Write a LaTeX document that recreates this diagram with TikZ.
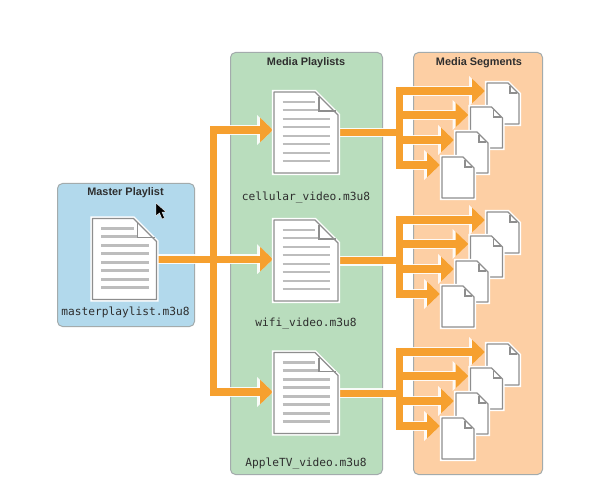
\documentclass[tikz,border=0pt]{standalone}
\usepackage{fontspec}
\setmainfont{Liberation Sans}
\newfontfamily\codefont{DejaVu Sans Mono}
\usetikzlibrary{arrows.meta}
\definecolor{flowc}{HTML}{F6A02F}
\definecolor{bluep}{HTML}{B2D9EC}
\definecolor{greenp}{HTML}{B9DDBD}
\definecolor{orangep}{HTML}{FDCFA4}
\definecolor{edgec}{HTML}{A3ABAC}
\definecolor{docedge}{HTML}{8E8E8E}
\definecolor{rulec}{HTML}{BDBDBD}
\definecolor{inkc}{HTML}{2E2E2E}
\tikzset{
  panel/.style={draw=edgec,line width=1pt,rounded corners=5pt},
  paneltitle/.style={font=\fontsize{10.9}{12}\selectfont\bfseries,text=inkc,inner sep=0pt},
  filename/.style={font=\codefont\fontsize{11.2}{13}\selectfont,text=inkc,inner sep=0pt},
  bigdoc/.style={minimum width=64pt,minimum height=81pt,inner sep=0pt,anchor=north west},
  smalldoc/.style={minimum width=32pt,minimum height=41pt,inner sep=0pt,anchor=north west},
  halo/.style={draw=white,line width=9.6pt,line cap=rect,opacity=0.9},
  flow/.style={draw=flowc,line width=7.4pt,line cap=rect},
  haloarr/.style={halo,-{Triangle[length=16pt,width=29pt,color=white]}},
  flowarr/.style={flow,-{Triangle[length=13pt,width=24pt,color=flowc]}},
  docbody/.style={fill=white,draw=docedge,line width=1.4pt,line join=round,
    preaction={draw=white,line width=4.2pt}},
  docfold/.style={draw=docedge,line width=1.2pt},
  docrule/.style={draw=rulec,line width=2.6pt}
}
% big document artwork, over its named node
\newcommand\drawbig[1]{%
  \begin{scope}[shift={(#1.north west)}]
    \draw[docbody] (0,0) -- (41,0) -- (64,23) -- (64,81) -- (0,81) -- cycle;
    \draw[docfold] (45,5) -- (45,19) -- (62,19);
    \foreach \yy/\xe in {10/41,18/44,27/56,35/56,44/56,52/56,61/56,69/56}
      \draw[docrule] (8.5,\yy) -- (\xe,\yy);
  \end{scope}}
% small document artwork, over its named node
\newcommand\drawsmall[1]{%
  \begin{scope}[shift={(#1.north west)}]
    \draw[docbody] (0,0) -- (21,0) -- (32,11) -- (32,41) -- (0,41) -- cycle;
    \draw[docfold] (23,3) -- (23,10) -- (30,10);
  \end{scope}}
% four stacked segment documents, with the point each arrow reaches
\newcommand\placegroup[2]{%
  \node[smalldoc] (#11) at (487,#2) {};
  \node[smalldoc] (#12) at (470.5,#2+24) {};
  \node[smalldoc] (#13) at (456,#2+49) {};
  \node[smalldoc] (#14) at (442,#2+74) {};
  \foreach \k in {1,2,3,4}
    \coordinate (#1\k in) at ([xshift=-2pt,yshift=-8pt]#1\k.north west);
}
\newcommand\groupspine[3]{%
  \draw[#3] (#2 |- #11in) -- (#2 |- #14in);
}
\begin{document}
\begin{tikzpicture}[x=1pt,y=-1pt]
  \useasboundingbox[fill=white] (0,0) rectangle (595,500);
  % panels
  \node[panel,fill=bluep,minimum width=137pt,minimum height=143pt,anchor=north west,inner sep=0pt] (masterpanel) at (57,183) {};
  \node[panel,fill=greenp,minimum width=152pt,minimum height=422pt,anchor=north west,inner sep=0pt] (mediapanel) at (230,52) {};
  \node[panel,fill=orangep,minimum width=129pt,minimum height=422pt,anchor=north west,inner sep=0pt] (segpanel) at (413,52) {};
  \node[paneltitle] (mastertitle) at (125.5,192.8) {Master Playlist};
  \node[paneltitle] (mediatitle) at (306,63) {Media Playlists};
  \node[paneltitle] (segtitle) at (479,63) {Media Segments};
  % document anchors
  \node[bigdoc] (master) at (92.5,218.5) {};
  \node[bigdoc] (cell) at (274,92) {};
  \node[bigdoc] (wifi) at (274,220) {};
  \node[bigdoc] (tv) at (274,352.5) {};
  \placegroup{a}{83}
  \placegroup{b}{212}
  \placegroup{c}{344}
  \coordinate (trunk) at (213.5,259);
  \coordinate (incell) at ([xshift=-1pt,yshift=-38pt]cell.north west);
  \coordinate (intv) at ([xshift=-1pt,yshift=-39.5pt]tv.north west);
  \coordinate (spine) at (399.5,0);
  % connectors: white halo pass, then orange pass
  \foreach \ln/\ar in {halo/haloarr,flow/flowarr}{
    \draw[\ar] (master.east) -- ([xshift=-1pt]wifi.west |- master.east);
    \draw[\ar] (trunk) |- (incell);
    \draw[\ar] (trunk) |- (intv);
    \groupspine{a}{spine}{\ln}
    \groupspine{b}{spine}{\ln}
    \groupspine{c}{spine}{\ln}
    \draw[\ln] (cell.east) -- (spine |- cell.east);
    \draw[\ln] (wifi.east) -- (spine |- wifi.east);
    \draw[\ln] (tv.east) -- (spine |- tv.east);
    \foreach \g in {a,b,c}\foreach \k in {1,2,3,4}
      \draw[\ar] (spine |- \g\k in) -- (\g\k in);
  }
  % document artwork
  \drawbig{master}\drawbig{cell}\drawbig{wifi}\drawbig{tv}
  \foreach \g in {a,b,c}\foreach \k in {1,2,3,4}{\drawsmall{\g\k}}
  % file names
  \node[filename] (mastername) at (125.5,312.5) {masterplaylist.m3u8};
  \node[filename] (cellname) at (306,197.5) {cellular\_video.m3u8};
  \node[filename] (wifiname) at (306,323.5) {wifi\_video.m3u8};
  \node[filename] (tvname) at (306,463.5) {AppleTV\_video.m3u8};
  % mouse pointer
  \fill[black,draw=white,line width=0.4pt] (156,203) -- (156,216) -- (159.5,213) -- (162,219) -- (164.5,218) -- (162,212) -- (166,212) -- cycle;
\end{tikzpicture}
\end{document}
